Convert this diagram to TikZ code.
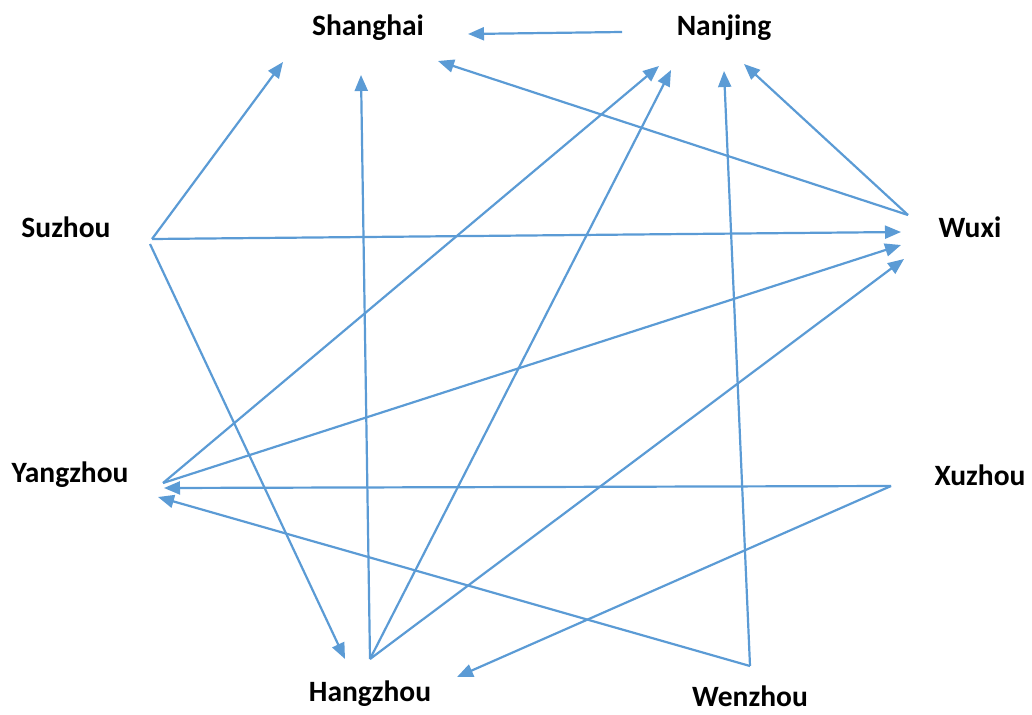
\documentclass[tikz,border=0pt]{standalone}
\usepackage{fontspec}
\setmainfont{Carlito}
\usetikzlibrary{arrows.meta}
\definecolor{edgeblue}{HTML}{5B9BD5}
\begin{document}
\begin{tikzpicture}[x=1pt,y=-1pt,
  city/.style={anchor=base,inner sep=0pt,font=\fontsize{29.5}{31}\selectfont\bfseries},
  edge/.style={draw=edgeblue,line width=2.2pt,-{Triangle[length=16pt,width=13pt]}}]
\useasboundingbox (0,0) rectangle (1032,714);
% labels
\node[city] (sh) at (368,36) {Shanghai};
\node[city] (nj) at (724,36) {Nanjing};
\node[city] (sz) at (66,237) {Suzhou};
\node[city] (wx) at (970,237) {Wuxi};
\node[city] (yz) at (70,482) {Yangzhou};
\node[city] (xz) at (980,485) {Xuzhou};
\node[city] (hz) at (370,701) {Hangzhou};
\node[city] (wz) at (750,706) {Wenzhou};
% connector ends
\coordinate (szA) at (152,239);
\coordinate (szB) at (150,244);
\coordinate (hzO) at (370,659);
\coordinate (wxO) at (908,215);
\coordinate (yzO) at (163,483);
\coordinate (xzO) at (891,486);
\coordinate (wzO) at (750,666);
\coordinate (njO) at (622,32);
\coordinate (shT1) at (468,34);
\coordinate (shT2) at (283,62);
\coordinate (shT3) at (361,75);
\coordinate (shT4) at (438,61);
\coordinate (njT1) at (659,66);
\coordinate (njT2) at (671,70);
\coordinate (njT3) at (724,71);
\coordinate (njT4) at (744,64);
\coordinate (wxT1) at (901,232);
\coordinate (wxT2) at (901,245);
\coordinate (wxT3) at (904,259);
\coordinate (yzT1) at (164,488);
\coordinate (yzT2) at (158,497);
\coordinate (hzT1) at (345,659);
\coordinate (hzT2) at (457,677);
% connectors
\draw[edge] (njO) -- (shT1);
\draw[edge] (szA) -- (shT2);
\draw[edge] (hzO) -- (shT3);
\draw[edge] (wxO) -- (shT4);
\draw[edge] (yzO) -- (njT1);
\draw[edge] (hzO) -- (njT2);
\draw[edge] (wzO) -- (njT3);
\draw[edge] (wxO) -- (njT4);
\draw[edge] (szA) -- (wxT1);
\draw[edge] (yzO) -- (wxT2);
\draw[edge] (hzO) -- (wxT3);
\draw[edge] (xzO) -- (yzT1);
\draw[edge] (wzO) -- (yzT2);
\draw[edge] (szB) -- (hzT1);
\draw[edge] (xzO) -- (hzT2);
\end{tikzpicture}
\end{document}
